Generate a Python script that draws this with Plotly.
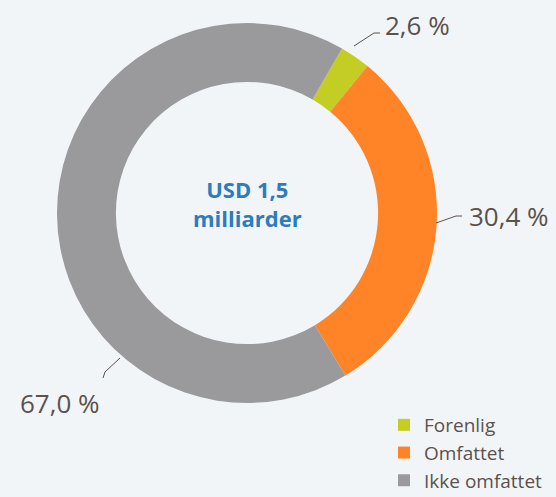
import plotly.graph_objects as go

W, H = 556, 497

categories = ["Forenlig", "Omfattet", "Ikke omfattet"]
values = [2.6, 30.4, 67.0]
value_labels = ["2,6 %", "30,4 %", "67,0 %"]
colors = ["#c3cd23", "#ff8427", "#9a9a9c"]
center_text = "USD 1,5<br>milliarder"

# layout (pixels)
cx, cy, R = 247, 213, 190

def px(x):
    return x / W

def py(y):
    return 1 - y / H

fig = go.Figure()
fig.add_trace(go.Pie(
    labels=categories, values=values, marker=dict(colors=colors, line=dict(width=0)),
    hole=0.69, sort=False, direction="clockwise", rotation=30,
    textinfo="none", hoverinfo="label+percent",
    domain=dict(x=[px(cx - R), px(cx + R)], y=[py(cy + R), py(cy - R)]),
))

# leader lines (pixel polylines) and label anchor points
leaders = [
    [(354, 46), (374, 33), (380, 33)],
    [(436, 223), (456, 216), (462, 216)],
    [(120, 358), (105, 372), (103, 378)],
]
label_pos = [
    (383, 25, "left"),
    (467, 216, "left"),
    (102, 403, "right"),
]
for pts, (lx, ly, anchor), txt in zip(leaders, label_pos, value_labels):
    path = "M " + " L ".join(f"{px(x)} {py(y)}" for x, y in pts)
    fig.add_shape(type="path", path=path, xref="paper", yref="paper",
                  line=dict(color="#5b514d", width=1))
    fig.add_annotation(x=px(lx), y=py(ly), xref="paper", yref="paper", text=txt,
                       showarrow=False, xanchor=anchor, yanchor="middle",
                       font=dict(family="Open Sans", size=26, color="#5b514d"))

fig.add_annotation(x=px(cx), y=py(cy - 10), xref="paper", yref="paper", text=center_text,
                   showarrow=False, xanchor="center", yanchor="middle",
                   font=dict(family="Open Sans", size=22, color="#2e7bbf", weight="bold"))

fig.update_layout(
    width=W, height=H, margin=dict(l=0, r=0, t=0, b=0, autoexpand=False),
    paper_bgcolor="#f2f5f8", plot_bgcolor="#f2f5f8",
    showlegend=True,
    legend=dict(x=px(384), y=py(500), xanchor="left", yanchor="bottom",
                font=dict(family="Open Sans", size=19, color="#5b514d"),
                bgcolor="rgba(0,0,0,0)", tracegroupgap=0, itemwidth=30),
)

fig.write_html("out.html", config={"displayModeBar": False},
               post_script="document.body.style.margin='0';document.body.style.background='#f2f5f8';")
